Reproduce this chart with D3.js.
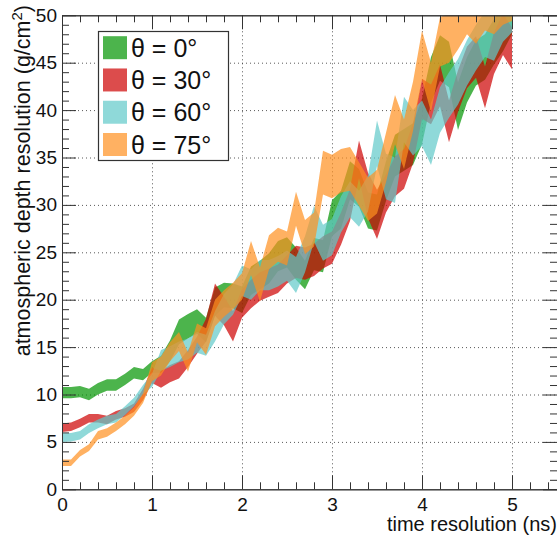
<!DOCTYPE html>
<html>
<head>
<meta charset="utf-8">
<script src="https://cdn.jsdelivr.net/npm/d3@7"></script>
<style>
  body { margin: 0; background: #fff; }
  svg { display: block; font-family: "Liberation Sans", Arial, sans-serif; }
</style>
</head>
<body>
<div id="chart"></div>
<script>
// time resolution (ns), one point every 0.1 ns
const timeRes = [0, 0.1, 0.2, 0.3, 0.4, 0.5, 0.6, 0.7, 0.8, 0.9,
  1, 1.1, 1.2, 1.3, 1.4, 1.5, 1.6, 1.7, 1.8, 1.9,
  2, 2.1, 2.2, 2.3, 2.4, 2.5, 2.6, 2.7, 2.8, 2.9,
  3, 3.1, 3.2, 3.3, 3.4, 3.5, 3.6, 3.7, 3.8, 3.9,
  4, 4.1, 4.2, 4.3, 4.4, 4.5, 4.6, 4.7, 4.8, 4.9, 5];

// band centres (g/cm2)
const mid0 = [10.2, 10.2, 10.3, 10.0, 10.6, 11.0, 11.0, 11.6, 12.3, 12.1,
  12.9, 13.2, 14.6, 16.6, 17.2, 17.7, 16.8, 19.8, 20.5, 20.4,
  20.0, 22.0, 22.6, 23.3, 24.6, 25.0, 23.8, 22.6, 24.8, 24.6,
  28.6, 29.5, 32.6, 31.8, 29.4, 29.2, 32.5, 35.2, 35.8, 36.4,
  38.8, 43.2, 45.5, 44.8, 40.4, 43.2, 45.0, 45.6, 47.2, 48.6, 50.4];
const mid30 = [6.5, 6.6, 7.0, 7.5, 7.5, 7.3, 7.8, 8.1, 8.6, 10.0,
  12.0, 11.6, 12.2, 12.6, 13.8, 15.2, 16.8, 20.0, 18.8, 17.2,
  19.6, 20.6, 21.4, 21.8, 22.2, 23.2, 24.0, 23.8, 24.2, 25.0,
  25.5, 27.5, 30.0, 34.8, 31.0, 29.0, 31.2, 33.0, 33.8, 36.5,
  41.2, 40.6, 42.6, 38.8, 42.0, 44.5, 45.6, 42.4, 46.0, 48.0, 46.5];
const mid60 = [5.45, 5.5, 5.7, 6.4, 6.9, 7.3, 7.5, 8.3, 9.2, 10.5,
  11.5, 13.6, 14.0, 14.5, 14.8, 15.5, 15.2, 17.2, 19.0, 20.0,
  22.0, 21.6, 22.6, 22.6, 23.0, 23.6, 22.6, 24.8, 28.0, 26.0,
  26.6, 29.0, 30.6, 29.6, 31.2, 36.5, 33.0, 32.6, 39.0, 37.6,
  38.6, 36.6, 40.0, 41.6, 43.0, 45.0, 46.6, 48.0, 47.6, 49.6, 50.6];
const mid75 = [2.8, 2.8, 3.8, 4.4, 5.7, 6.0, 6.6, 7.3, 8.2, 9.6,
  12.4, 13.0, 14.5, 15.6, 13.4, 16.5, 15.6, 18.6, 19.6, 20.4,
  21.4, 24.4, 21.6, 25.0, 25.8, 25.4, 29.6, 26.6, 27.4, 33.4,
  33.0, 33.6, 33.8, 32.2, 30.6, 31.4, 35.0, 39.0, 36.4, 40.4,
  45.8, 42.4, 47.2, 47.6, 49.0, 50.6, 49.6, 51.0, 50.6, 51.6, 52.0];

// band half widths
const half0 = [0.6, 0.6, 0.6, 0.6, 0.6, 0.6, 0.6, 0.6, 0.6, 0.6,
  0.6, 0.9, 1.1, 1.3, 1.3, 1.3, 1.3, 1.5, 1.3, 1.3,
  1.4, 1.5, 1.5, 1.6, 1.6, 1.6, 1.7, 1.5, 1.7, 1.7,
  1.9, 2.0, 2.0, 2.0, 1.9, 1.9, 2.1, 2.2, 2.2, 2.2,
  2.4, 2.4, 2.4, 2.4, 2.5, 2.4, 2.4, 2.4, 2.4, 2.4, 2.4];
const half30 = [0.45, 0.45, 0.45, 0.45, 0.45, 0.45, 0.45, 0.45, 0.45, 0.6,
  0.8, 0.9, 0.9, 0.9, 0.9, 0.9, 1.2, 1.7, 1.5, 1.6,
  1.5, 1.5, 1.5, 1.5, 1.5, 1.5, 1.7, 1.7, 1.7, 1.7,
  1.7, 1.7, 1.7, 2.0, 2.4, 2.6, 2.0, 2.1, 2.1, 2.1,
  2.1, 2.1, 2.2, 2.2, 2.2, 2.2, 2.2, 2.2, 2.2, 2.2, 2.2];
const half60 = [0.45, 0.45, 0.45, 0.45, 0.45, 0.45, 0.45, 0.45, 0.45, 0.5,
  0.7, 1.1, 1.1, 1.1, 1.1, 1.1, 1.1, 1.6, 1.6, 1.6,
  1.6, 1.6, 1.6, 1.6, 1.6, 1.6, 1.9, 1.9, 1.9, 1.9,
  1.9, 1.9, 1.9, 1.9, 1.9, 2.4, 2.4, 2.4, 2.4, 2.4,
  2.4, 2.4, 2.4, 2.4, 2.4, 2.4, 2.4, 2.4, 2.4, 2.4, 2.4];
const half75 = [0.35, 0.35, 0.35, 0.35, 0.45, 0.45, 0.45, 0.45, 0.45, 0.5,
  1.0, 1.0, 1.0, 1.0, 1.0, 1.0, 1.4, 1.4, 1.4, 1.4,
  1.4, 1.8, 1.8, 1.8, 1.8, 1.8, 1.8, 1.8, 1.8, 2.3,
  2.3, 2.3, 2.3, 2.3, 2.3, 2.3, 2.6, 2.6, 2.6, 2.6,
  2.6, 2.6, 2.6, 2.6, 2.6, 2.6, 2.6, 2.6, 2.6, 2.6, 2.6];

const labels = ["\u03b8 = 0\u00b0", "\u03b8 = 30\u00b0", "\u03b8 = 60\u00b0", "\u03b8 = 75\u00b0"];
const colors = ["#009400", "#cd0000", "#5fc9c9", "#ff901f"];
const xTicks = [0, 1, 2, 3, 4, 5];
const yTicks = [0, 5, 10, 15, 20, 25, 30, 35, 40, 45, 50];

const series = [
  {name: labels[0], mid: mid0, half: half0, color: colors[0]},
  {name: labels[1], mid: mid30, half: half30, color: colors[1]},
  {name: labels[2], mid: mid60, half: half60, color: colors[2]},
  {name: labels[3], mid: mid75, half: half75, color: colors[3]}
];

// set the dimensions and margins of the graph
const margin = {top: 15.3, right: 0, bottom: 49.7, left: 62},
      width = 557 - margin.left - margin.right,
      height = 539 - margin.top - margin.bottom;

const root = d3.select("#chart")
    .append("svg")
    .attr("width", 557)
    .attr("height", 539);

const svg = root.append("g")
    .attr("transform", `translate(${margin.left}, ${margin.top})`);

const x = d3.scaleLinear().domain([0, 5.5]).range([0, width]);
const y = d3.scaleLinear().domain([0, 50]).range([height, 0]);

root.append("defs").append("clipPath")
    .attr("id", "frame")
    .append("rect")
    .attr("width", width)
    .attr("height", height);

// dotted grid on the major ticks
const grid = svg.append("g")
    .attr("stroke", "#222")
    .attr("stroke-opacity", 0.75)
    .attr("stroke-width", 1)
    .attr("stroke-dasharray", "1,3");
grid.selectAll(".gx")
    .data(xTicks.filter(d => d > 0))
    .join("line")
    .attr("x1", d => x(d) + 0.5).attr("x2", d => x(d) + 0.5)
    .attr("y1", 0).attr("y2", height);
grid.selectAll(".gy")
    .data(yTicks.filter(d => d > 0 && d < 50))
    .join("line")
    .attr("y1", d => y(d) + 0.5).attr("y2", d => y(d) + 0.5)
    .attr("x1", 0).attr("x2", width);

// bands
const area = d3.area()
    .x((d, i) => x(timeRes[i]))
    .y0(d => y(d[0]))
    .y1(d => y(d[1]));

svg.append("g")
    .attr("clip-path", "url(#frame)")
    .selectAll("path")
    .data(series)
    .join("path")
    .attr("d", s => area(s.mid.map((m, i) => [m - s.half[i], m + s.half[i]])))
    .attr("fill", s => s.color)
    .attr("fill-opacity", 0.7);

// axes, ROOT style: ticks inward on all four sides
const minorX = d3.range(0, 5.5001, 0.2).filter(d => Math.abs(d - Math.round(d)) > 1e-6);
const minorY = d3.range(0, 50.001, 1).filter(d => d % 5 !== 0);

function styleAxis(g) {
  g.selectAll("path").attr("stroke", "#333");
  g.selectAll("line").attr("stroke", "#333");
  g.selectAll("text")
    .attr("font-family", "'Liberation Sans', Arial, sans-serif")
    .attr("font-size", "19px")
    .attr("fill", "#111");
}

svg.append("g")
    .attr("transform", `translate(0, ${height})`)
    .call(d3.axisBottom(x).tickValues(minorX).tickSize(-7).tickFormat("").tickSizeOuter(0))
    .call(styleAxis);
svg.append("g")
    .attr("transform", `translate(0, ${height})`)
    .call(d3.axisBottom(x).tickValues(xTicks).tickSize(-14).tickSizeOuter(0).tickPadding(8)
        .tickFormat(d3.format("d")))
    .call(styleAxis);
svg.append("g")
    .call(d3.axisTop(x).tickValues(minorX).tickSize(-7).tickFormat("").tickSizeOuter(0))
    .call(styleAxis);
svg.append("g")
    .call(d3.axisTop(x).tickValues(xTicks).tickSize(-14).tickFormat("").tickSizeOuter(0))
    .call(styleAxis);

svg.append("g")
    .call(d3.axisLeft(y).tickValues(minorY).tickSize(-7).tickFormat("").tickSizeOuter(0))
    .call(styleAxis);
svg.append("g")
    .call(d3.axisLeft(y).tickValues(yTicks).tickSize(-14).tickSizeOuter(0).tickPadding(5)
        .tickFormat(d3.format("d")))
    .call(styleAxis);
svg.append("g")
    .attr("transform", `translate(${width}, 0)`)
    .call(d3.axisRight(y).tickValues(minorY).tickSize(-7).tickFormat("").tickSizeOuter(0))
    .call(styleAxis);
svg.append("g")
    .attr("transform", `translate(${width}, 0)`)
    .call(d3.axisRight(y).tickValues(yTicks).tickSize(-14).tickFormat("").tickSizeOuter(0))
    .call(styleAxis);

// axis titles
root.append("text")
    .attr("x", 557)
    .attr("y", 531)
    .attr("text-anchor", "end")
    .attr("font-size", "20px")
    .attr("fill", "#111")
    .text("time resolution (ns)");

const yTitle = root.append("text")
    .attr("transform", "translate(30, 5) rotate(-90)")
    .attr("text-anchor", "end")
    .attr("font-size", "21.5px")
    .attr("fill", "#111");
yTitle.append("tspan").text("atmospheric depth resolution (g/cm");
yTitle.append("tspan").attr("font-size", "15px").attr("dy", "-8").text("2");
yTitle.append("tspan").attr("dy", "8").text(")");

// legend
const legend = root.append("g");
legend.append("rect")
    .attr("x", 98.5).attr("y", 31.5)
    .attr("width", 130).attr("height", 129)
    .attr("fill", "#fff")
    .attr("stroke", "#333")
    .attr("stroke-width", 1.2);

const rowY = d3.scalePoint().domain(labels).range([47.7, 144.5]);
const rows = legend.selectAll(".row")
    .data(series)
    .join("g")
    .attr("transform", s => `translate(0, ${rowY(s.name)})`);
rows.append("rect")
    .attr("x", 103).attr("y", -11.5)
    .attr("width", 24).attr("height", 23)
    .attr("fill", s => s.color)
    .attr("fill-opacity", 0.7);
rows.append("text")
    .attr("x", 131).attr("y", 9)
    .attr("font-size", "25px")
    .attr("fill", "#111")
    .text(s => s.name);
</script>
</body>
</html>
